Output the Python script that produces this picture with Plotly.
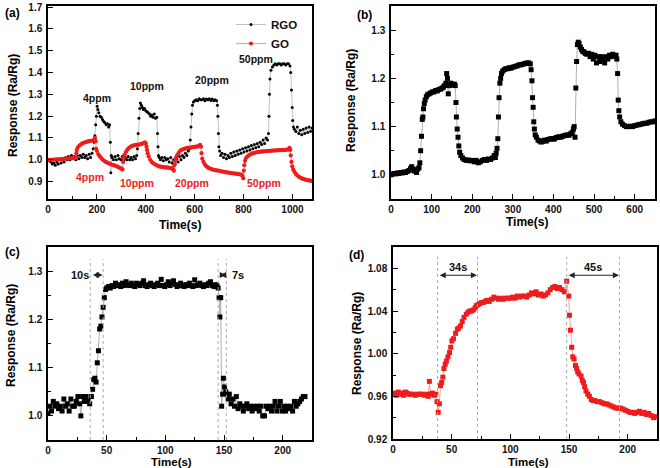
import plotly.graph_objects as go

# ---------------- DATA ----------------
# Panel (a): RGO (black) and GO (red) response vs time
a_rgo_t = [0,6,12,18,24,30,36,42,48,54,60,66,72,78,84,90,96,102,108,114,120,126,132,138,144,150,156,162,168,174,180,185,189,192,195,198,201,204,208,213,218,223,228,233,238,243,248,252,255,257,259,262,268,274,280,286,292,298,304,310,316,322,328,334,340,346,352,358,363,366,369,372,375,378,382,386,390,395,400,405,410,415,420,425,430,435,440,445,448,450,452,455,460,466,472,478,484,490,496,502,508,514,520,526,532,538,544,550,556,562,568,574,579,582,585,588,591,595,600,606,612,618,624,630,636,642,648,654,660,666,672,678,684,690,693,695,697,699,702,706,712,718,724,730,736,742,748,754,760,766,772,778,784,790,796,802,808,814,820,826,832,838,844,850,856,862,868,874,880,886,892,898,902,904,906,908,912,918,924,930,936,942,948,954,960,966,972,978,984,990,993,996,999,1001,1004,1008,1014,1020,1026,1032,1038,1044,1050,1056,1062,1068,1074,1080]
a_rgo_y = [1.0,0.995,0.99,0.98,0.985,0.975,0.99,0.98,1.0,0.985,1.0,0.99,1.01,1.0,1.015,1.0,1.02,1.005,1.015,1.0,1.02,1.005,1.02,1.01,1.025,1.01,1.02,1.005,1.025,1.01,1.03,1.05,1.08,1.11,1.16,1.2,1.245,1.23,1.215,1.2,1.195,1.185,1.175,1.17,1.16,1.165,1.15,1.16,1.08,0.94,1.02,1.01,1.0,1.015,1.0,1.02,1.005,1.0,1.015,1.0,1.01,1.0,1.015,1.0,1.01,1.0,1.015,1.005,1.02,1.05,1.12,1.19,1.235,1.26,1.25,1.24,1.23,1.235,1.225,1.22,1.215,1.21,1.2,1.205,1.195,1.21,1.19,1.195,1.12,1.06,1.02,1.01,1.0,1.01,0.995,1.01,1.0,1.005,0.99,1.01,0.985,1.0,0.98,1.005,0.99,1.015,1.0,1.02,1.01,1.03,1.02,1.04,1.05,1.09,1.15,1.21,1.25,1.265,1.27,1.275,1.27,1.28,1.275,1.275,1.28,1.27,1.278,1.275,1.28,1.272,1.278,1.27,1.275,1.27,1.25,1.2,1.12,1.06,1.04,1.02,1.03,1.01,1.025,1.005,1.02,1.01,1.03,1.015,1.035,1.02,1.04,1.025,1.045,1.03,1.05,1.035,1.055,1.04,1.06,1.045,1.065,1.05,1.07,1.055,1.075,1.06,1.08,1.07,1.09,1.075,1.1,1.09,1.12,1.2,1.3,1.37,1.41,1.425,1.435,1.44,1.435,1.44,1.44,1.435,1.44,1.44,1.435,1.44,1.44,1.43,1.4,1.32,1.24,1.18,1.15,1.14,1.13,1.15,1.12,1.135,1.115,1.14,1.12,1.145,1.125,1.15,1.13,1.145]

a_go_t = [0,8,16,24,32,40,48,56,64,72,80,88,96,104,110,114,116,118,122,128,134,140,146,152,158,164,170,176,182,188,192,195,197,200,206,212,218,224,230,236,242,248,254,260,266,272,278,284,290,296,302,305,307,310,314,320,326,332,338,344,350,356,362,368,374,380,386,392,396,400,403,405,408,412,418,424,430,436,442,448,454,460,466,472,478,484,490,496,502,508,512,515,517,520,524,528,534,540,546,552,558,564,570,576,582,588,594,600,606,612,618,622,626,628,631,636,642,648,654,660,666,672,678,684,690,696,702,708,714,720,726,732,738,744,750,756,762,768,774,780,786,792,796,799,801,803,806,810,816,822,828,834,840,846,852,858,864,870,876,882,888,894,900,906,912,918,924,930,936,942,948,954,960,966,972,978,984,988,991,993,996,999,1003,1008,1014,1020,1026,1032,1038,1044,1050,1056,1062,1068,1074,1080]
a_go_y = [1.0,1.0,1.0,1.001,1.002,1.002,1.003,1.003,1.004,1.005,1.005,1.006,1.007,1.008,1.008,1.01,1.03,1.045,1.056,1.065,1.07,1.075,1.078,1.08,1.082,1.084,1.085,1.087,1.088,1.09,1.1,1.085,1.05,1.04,1.025,1.015,1.008,1.0,0.995,0.99,0.987,0.984,0.981,0.978,0.976,0.974,0.971,0.968,0.965,0.962,0.958,0.955,0.99,1.01,1.025,1.038,1.048,1.055,1.06,1.063,1.066,1.067,1.068,1.069,1.07,1.072,1.074,1.076,1.08,1.075,1.06,1.045,1.03,1.015,1.0,0.99,0.985,0.98,0.976,0.973,0.97,0.968,0.967,0.966,0.965,0.965,0.964,0.963,0.962,0.96,0.955,0.95,0.975,0.995,1.01,1.02,1.03,1.04,1.045,1.048,1.05,1.052,1.054,1.055,1.056,1.057,1.058,1.059,1.06,1.061,1.062,1.068,1.06,1.03,1.005,0.99,0.978,0.97,0.965,0.961,0.958,0.956,0.954,0.952,0.951,0.95,0.949,0.947,0.946,0.944,0.943,0.942,0.941,0.94,0.939,0.938,0.937,0.936,0.935,0.934,0.933,0.931,0.925,0.915,0.95,0.975,0.995,1.008,1.015,1.02,1.025,1.028,1.03,1.032,1.034,1.035,1.036,1.037,1.038,1.038,1.039,1.04,1.04,1.041,1.041,1.042,1.042,1.043,1.043,1.044,1.044,1.044,1.045,1.045,1.045,1.046,1.047,1.055,1.045,1.02,0.99,0.97,0.955,0.945,0.935,0.928,0.922,0.918,0.915,0.912,0.91,0.908,0.906,0.905,0.904,0.903]

# Panel (b)
b_t = [0,4,8,12,16,20,24,28,32,36,40,44,48,51,54,57,60,63,66,69,71,73,75,77,78.5,80,82,84,87,90,94,98,102,106,110,114,118,122,126,129,132,135,137,139,141,144,147,150,153,156,158,160,161,163,165,167,169,172,176,180,185,190,195,200,205,210,215,220,225,230,235,240,245,250,254,257,259,261,263,264.5,266,268,270,272,275,279,283,287,291,295,299,303,307,311,315,319,323,327,331,335,339,343,345,347,348.5,350,351.5,353,355,358,362,366,370,374,378,382,386,390,394,398,402,406,410,414,418,422,426,430,434,438,442,446,449,451,453,455,457,459,461,463,466,469,472,475,478,482,486,490,494,498,502,506,510,514,518,522,526,530,534,538,542,546,550,554,556,558,559.5,561,563,566,570,575,580,585,590,595,600,605,610,615,620,625,630,635,640,645,650]
b_y = [1.0,1.002,1.003,1.002,1.004,1.003,1.005,1.004,1.006,1.005,1.007,1.009,1.013,1.017,1.012,1.008,1.01,1.005,1.012,1.015,1.025,1.05,1.08,1.115,1.12,1.137,1.148,1.155,1.162,1.166,1.168,1.17,1.172,1.172,1.175,1.174,1.177,1.178,1.18,1.182,1.185,1.19,1.21,1.2,1.168,1.185,1.19,1.188,1.186,1.188,1.185,1.15,1.12,1.095,1.078,1.06,1.047,1.04,1.035,1.032,1.03,1.031,1.029,1.03,1.027,1.03,1.025,1.027,1.03,1.032,1.03,1.033,1.032,1.035,1.04,1.036,1.045,1.055,1.075,1.12,1.16,1.19,1.2,1.21,1.215,1.218,1.22,1.22,1.222,1.221,1.223,1.224,1.225,1.226,1.228,1.228,1.229,1.23,1.231,1.232,1.232,1.23,1.218,1.195,1.16,1.14,1.11,1.095,1.083,1.078,1.072,1.07,1.068,1.07,1.072,1.07,1.073,1.074,1.075,1.075,1.074,1.077,1.078,1.079,1.078,1.08,1.081,1.082,1.083,1.082,1.085,1.088,1.095,1.1,1.078,1.18,1.235,1.27,1.275,1.272,1.265,1.26,1.256,1.255,1.252,1.25,1.252,1.245,1.25,1.24,1.248,1.232,1.245,1.235,1.245,1.24,1.232,1.245,1.24,1.248,1.245,1.25,1.246,1.248,1.24,1.21,1.155,1.133,1.12,1.11,1.105,1.102,1.1,1.1,1.101,1.1,1.102,1.103,1.104,1.105,1.106,1.107,1.107,1.109,1.11,1.11,1.112]

# Panel (c)
c_t = [0,1.5,3,4.5,6,7.5,9,10.5,12,13.5,15,16.5,18,19.5,21,22.5,24,25.5,27,28,29.5,31,32.5,34,35.5,37,38,39,40,41,42,43,44,45,46,47,48,49,50,51.5,
       53,54.5,56,57.5,59,60.5,62,63.5,65,66.5,68,69.5,71,72.5,74,75.5,77,78.5,80,81.5,83,84.5,86,87.5,89,90.5,92,93.5,95,96.5,98,99.5,101,102.5,104,105.5,107,108.5,110,111.5,113,114.5,116,117.5,119,120.5,122,123.5,125,126.5,128,129.5,131,132.5,134,135.5,137,138.5,140,141.5,143,
       144,145,145.8,146.5,147.2,148,148.8,149.5,150.5,151.5,152.5,153.5,154.5,156,157.5,159,160.5,162,163.5,165,166.5,168,169.5,171,172.5,174,175.5,177,178.5,180,181.5,183,184.5,186,187.5,189,190.5,192,193.5,195,196.5,198,199.5,201,202.5,204,205.5,207,208.5,210,211.5,213,214.5,216,217.5,219]
c_y = [1.005,1.02,1.01,1.03,1.02,1.025,1.015,1.02,1.01,1.035,1.02,1.025,1.01,1.035,1.02,1.02,1.03,1.04,1.025,1.0,1.04,1.03,1.04,1.03,1.025,1.04,1.055,1.075,1.078,1.07,1.11,1.135,1.18,1.186,1.205,1.225,1.245,1.262,1.265,1.268,
       1.265,1.27,1.268,1.275,1.27,1.272,1.268,1.275,1.27,1.278,1.272,1.27,1.275,1.27,1.268,1.275,1.272,1.27,1.275,1.28,1.27,1.268,1.272,1.275,1.27,1.268,1.272,1.275,1.27,1.283,1.27,1.268,1.272,1.278,1.27,1.275,1.28,1.272,1.268,1.27,1.275,1.27,1.268,1.272,1.27,1.275,1.27,1.268,1.282,1.27,1.272,1.275,1.27,1.268,1.272,1.27,1.275,1.278,1.27,1.268,1.272,
       1.27,1.265,1.245,1.205,1.245,1.02,1.045,1.078,1.06,1.05,1.045,1.035,1.045,1.025,1.035,1.02,1.04,1.015,1.025,1.02,1.01,1.02,1.025,1.015,1.02,1.01,1.02,1.015,1.02,1.01,1.02,1.0,1.0,1.02,1.015,1.02,1.01,1.02,1.03,1.01,1.02,1.03,1.01,1.02,1.01,1.02,1.015,1.02,1.01,1.03,1.02,1.025,1.03,1.035,1.04,1.04]

# Panel (d)
d_t = [0,1.5,3,4.5,6,7.5,9,10.5,12,13.5,15,17,19,21,23,25,27,29,30,31,32,33.5,35,36.5,37.5,38.5,39.5,40.5,41.5,42.5,43.4,44.5,45.5,46.8,48.2,49.2,50.2,51.5,53.3,54.8,56,57.5,59,60.5,62.4,64,65.5,67,68.5,70,71,72.5,74,75.5,77,78.5,80,82,84,86,88,90,92,94,96,98,100,102,104,106,108,110,112,114,116,118,120,122,124,126,128,130,132,134,136,138,140,142,144,146,148,149.8,150.4,151.2,152.3,153.2,154.3,155.5,156.5,157.4,158.5,160.3,161.3,162.3,163.3,164.5,166,167.4,169,170.5,172,174,176,178,180,182,184,186,188,190,192,194,196,198,200,202,204,206,208,210,212,214,216,218,220,222,224]
d_y = [0.962,0.963,0.961,0.964,0.962,0.963,0.961,0.964,0.963,0.962,0.962,0.962,0.961,0.962,0.962,0.962,0.961,0.962,0.96,0.974,0.962,0.963,0.961,0.962,0.955,0.945,0.953,0.97,0.973,0.978,0.986,0.99,0.993,0.997,1.001,1.006,1.012,1.014,1.019,1.023,1.024,1.026,1.03,1.034,1.037,1.039,1.04,1.04,1.041,1.043,1.045,1.046,1.047,1.048,1.048,1.049,1.05,1.049,1.051,1.053,1.052,1.051,1.052,1.051,1.052,1.052,1.052,1.053,1.052,1.054,1.053,1.054,1.054,1.053,1.055,1.057,1.056,1.058,1.055,1.056,1.054,1.055,1.057,1.06,1.062,1.063,1.061,1.062,1.06,1.058,1.068,1.054,1.036,1.022,1.006,0.997,0.995,0.989,0.986,0.983,0.981,0.979,0.975,0.973,0.969,0.965,0.962,0.96,0.957,0.956,0.956,0.955,0.955,0.954,0.953,0.953,0.952,0.951,0.95,0.949,0.949,0.949,0.948,0.947,0.946,0.945,0.945,0.944,0.945,0.946,0.944,0.945,0.943,0.944,0.942,0.94,0.941]

# Annotation texts / positions
a_black_labels = ["4ppm", "10ppm", "20ppm", "50ppm"]
a_black_lx = [201, 406, 669, 849]
a_black_ly = [1.284, 1.34, 1.367, 1.463]
a_red_labels = ["4ppm", "10ppm", "20ppm", "50ppm"]
a_red_lx = [172, 365, 591, 882]
a_red_ly = [0.922, 0.894, 0.894, 0.894]
c_vlines = [36, 47, 145, 152]
d_vlines = [38, 72, 148, 193]

# ---------------- FIGURE ----------------
W, H = 660, 468
FONT = "Liberation Sans, Arial, sans-serif"
RED = "#ee1c1c"

def px(x):
    return x / W

def py(y):
    return 1 - y / H

fig = go.Figure()

# (a)
fig.add_trace(go.Scatter(x=a_rgo_t, y=a_rgo_y, mode="lines+markers", name="RGO",
                         line=dict(color="#c0c0c0", width=1),
                         marker=dict(color="black", size=3, symbol="circle"),
                         xaxis="x", yaxis="y"))
fig.add_trace(go.Scatter(x=a_go_t, y=a_go_y, mode="lines+markers", name="GO",
                         line=dict(color="#f5a0a0", width=1.2),
                         marker=dict(color=RED, size=4.2, symbol="circle"),
                         xaxis="x", yaxis="y"))
# (b)
fig.add_trace(go.Scatter(x=b_t, y=b_y, mode="lines+markers", showlegend=False,
                         line=dict(color="#b0b0b0", width=1),
                         marker=dict(color="black", size=5, symbol="square"),
                         xaxis="x2", yaxis="y2"))
# (c)
fig.add_trace(go.Scatter(x=c_t, y=c_y, mode="lines+markers", showlegend=False,
                         line=dict(color="#b0b0b0", width=1),
                         marker=dict(color="black", size=5, symbol="square"),
                         xaxis="x3", yaxis="y3"))
# (d)
fig.add_trace(go.Scatter(x=d_t, y=d_y, mode="lines+markers", showlegend=False,
                         line=dict(color="#f5a0a0", width=1),
                         marker=dict(color=RED, size=5, symbol="square"),
                         xaxis="x4", yaxis="y4"))

def xa(domain, rng, dtick, mdtick, anchor):
    return dict(domain=domain, range=rng, dtick=dtick, tick0=0, anchor=anchor,
                showline=True, linecolor="black", linewidth=1.5, mirror=True,
                ticks="inside", ticklen=5, tickwidth=1.2, tickcolor="black",
                minor=dict(ticks="inside", dtick=mdtick, ticklen=3, tickwidth=1, tickcolor="black"),
                showgrid=False, zeroline=False, automargin=False,
                tickfont=dict(family=FONT, size=10, color="#111", weight="bold"))

def ya(domain, rng, dtick, mdtick, fmt, anchor):
    d = dict(domain=domain, range=rng, dtick=dtick, tick0=0, anchor=anchor, tickformat=fmt,
             showline=True, linecolor="black", linewidth=1.5, mirror=True,
             ticks="inside", ticklen=5, tickwidth=1.2, tickcolor="black",
             showgrid=False, zeroline=False, automargin=False, ticklabelstandoff=2,
             tickfont=dict(family=FONT, size=10, color="#111", weight="bold"))
    if mdtick:
        d["minor"] = dict(ticks="inside", dtick=mdtick, ticklen=3, tickwidth=1, tickcolor="black")
    return d

top_dom = [py(199), py(6)]
bot_dom = [py(440), py(247)]

fig.update_layout(
    width=W, height=H,
    margin=dict(l=0, r=0, t=0, b=0),
    paper_bgcolor="white", plot_bgcolor="white",
    font=dict(family=FONT, color="black"),
    xaxis=xa([px(48), px(312)], [0, 1080], 200, 100, "y"),
    yaxis=ya(top_dom, [0.82, 1.705], 0.1, None, ".1f", "x"),
    xaxis2=xa([px(391), px(655)], [0, 650], 100, 50, "y2"),
    yaxis2=ya(top_dom, [0.95, 1.35], 0.1, 0.05, ".1f", "x2"),
    xaxis3=xa([px(48), px(312)], [0, 225], 50, 25, "y3"),
    yaxis3=ya(bot_dom, [0.95, 1.35], 0.1, 0.05, ".1f", "x3"),
    xaxis4=xa([px(393), px(657)], [0, 225], 50, 25, "y4"),
    yaxis4=ya([py(439), py(247)], [0.92, 1.10], 0.04, 0.02, ".2f", "x4"),
    legend=dict(x=px(231), y=py(10), xanchor="left", yanchor="top",
                bgcolor="rgba(0,0,0,0)", borderwidth=0, tracegroupgap=0,
                font=dict(family=FONT, size=11.5, color="#111", weight="bold")),
)

ann = []
def T(text, x, y, size=11, color="black", xref="paper", yref="paper", angle=0):
    ann.append(dict(text=text, x=x, y=y, xref=xref, yref=yref, showarrow=False,
                    textangle=angle, xanchor="center", yanchor="middle",
                    font=dict(family=FONT, size=size, color=color, weight="bold")))

# panel letters
T("(a)", px(12), py(13), size=12)
T("(b)", px(364), py(15), size=12)
T("(c)", px(12), py(252), size=12)
T("(d)", px(356), py(255), size=12)
# axis titles
T("Response (Ra/Rg)", px(13), py(106), size=12, angle=-90)
T("Response (Ra/Rg)", px(351), py(101), size=12, angle=-90)
T("Response (Ra/Rg)", px(11), py(336), size=12, angle=-90)
T("Response (Ra/Rg)", px(357), py(344), size=12, angle=-90)
T("Time(s)", px(180), py(225), size=12)
T("Time(s)", px(527), py(222), size=12)
T("Time(s)", px(171), py(461.5), size=11.5)
T("Time(s)", px(528), py(461.5), size=11.5)

# ppm labels in (a)
for t_, x_, y_ in zip(a_black_labels, a_black_lx, a_black_ly):
    T(t_, x_, y_, size=10.5, color="#111", xref="x", yref="y")
for t_, x_, y_ in zip(a_red_labels, a_red_lx, a_red_ly):
    T(t_, x_, y_, size=10.5, color=RED, xref="x", yref="y")

# (c) arrows / labels
T("10s", 27, 1.292, size=11, color="#111", xref="x3", yref="y3")
T("7s", 162, 1.292, size=11, color="#111", xref="x3", yref="y3")
# (d)
T("34s", 55, 1.081, size=11, color="#111", xref="x4", yref="y4")
T("45s", 170.5, 1.081, size=11, color="#111", xref="x4", yref="y4")

def arrow(x0, x1, y, xr, yr):
    ann.append(dict(x=x1, y=y, ax=x0, ay=y, xref=xr, yref=yr, axref=xr, ayref=yr,
                    text="", showarrow=True, arrowhead=2, arrowside="end+start",
                    arrowsize=1, arrowwidth=1.2, arrowcolor="#222"))

arrow(37, 46.5, 1.292, "x3", "y3")
arrow(145.5, 151.5, 1.292, "x3", "y3")
arrow(38.5, 71.5, 1.0735, "x4", "y4")
arrow(148.5, 192.5, 1.0735, "x4", "y4")

fig.update_layout(annotations=ann)

shapes = []
for v in c_vlines:
    shapes.append(dict(type="line", xref="x3", yref="y3", x0=v, x1=v, y0=0.95, y1=1.325,
                       line=dict(color="#aaa", width=1, dash="dot")))
for v in d_vlines:
    shapes.append(dict(type="line", xref="x4", yref="y4", x0=v, x1=v, y0=0.92, y1=1.091,
                       line=dict(color="#aaa", width=1, dash="dot")))
fig.update_layout(shapes=shapes)

# remove the browser's default 8px body margin so the figure fills the window exactly
fig.write_html("out.html", config={"displayModeBar": False},
               post_script="document.body.style.margin='0';document.body.style.overflow='hidden';")
